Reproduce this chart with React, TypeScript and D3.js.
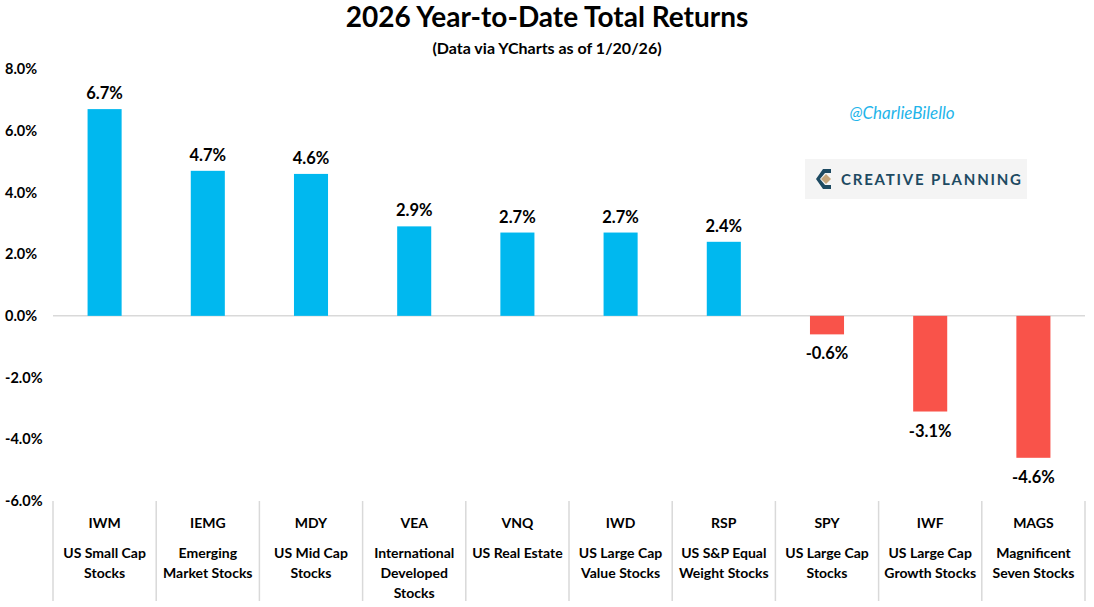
import React, { useEffect, useRef } from "react";
import * as d3 from "d3";

const tickers = ["IWM", "IEMG", "MDY", "VEA", "VNQ", "IWD", "RSP", "SPY", "IWF", "MAGS"];
const descriptions = [
  ["US Small Cap", "Stocks"],
  ["Emerging", "Market Stocks"],
  ["US Mid Cap", "Stocks"],
  ["International", "Developed", "Stocks"],
  ["US Real Estate"],
  ["US Large Cap", "Value Stocks"],
  ["US S&P Equal", "Weight Stocks"],
  ["US Large Cap", "Stocks"],
  ["US Large Cap", "Growth Stocks"],
  ["Magnificent", "Seven Stocks"],
];
const returns = [6.7, 4.7, 4.6, 2.9, 2.7, 2.7, 2.4, -0.6, -3.1, -4.6];
const yTicks = [8, 6, 4, 2, 0, -2, -4, -6];

const FONT = "Lato, 'Open Sans', sans-serif";

const App: React.FC = () => {
  const svgRef = useRef<SVGSVGElement | null>(null);

  useEffect(() => {
    const width = 1094;
    const height = 607;
    const margin = { top: 69, right: 9, bottom: 106, left: 53 };

    const svg = d3.select(svgRef.current).attr("width", width).attr("height", height);
    svg.selectAll("*").remove();

    svg.append("rect").attr("width", width).attr("height", height).attr("fill", "white");

    const x = d3
      .scaleBand()
      .domain(tickers)
      .range([margin.left, width - margin.right])
      .paddingInner(0.67)
      .paddingOuter(0.335);

    // full-width bands for the category table below the plot
    const band = d3
      .scaleBand()
      .domain(tickers)
      .range([margin.left, width - margin.right]);

    const y = d3.scaleLinear().domain([-6, 8]).range([height - margin.bottom, margin.top]);

    // Title
    svg
      .append("text")
      .attr("x", width / 2)
      .attr("y", 27)
      .attr("text-anchor", "middle")
      .style("font-family", FONT)
      .style("font-size", "28px")
      .style("font-weight", "bold")
      .style("fill", "black")
      .text("2026 Year-to-Date Total Returns");

    svg
      .append("text")
      .attr("x", width / 2)
      .attr("y", 54)
      .attr("text-anchor", "middle")
      .style("font-family", FONT)
      .style("font-size", "16px")
      .style("font-weight", "bold")
      .style("fill", "black")
      .text("(Data via YCharts as of 1/20/26)");

    // Y axis labels
    svg
      .append("g")
      .selectAll("text")
      .data(yTicks)
      .enter()
      .append("text")
      .attr("x", 5)
      .attr("y", (d) => y(d))
      .attr("dy", "0.35em")
      .style("font-family", FONT)
      .style("font-size", "14.5px")
      .style("font-weight", "bold")
      .style("fill", "black")
      .text((d) => d.toFixed(1) + "%");

    // Zero line
    svg
      .append("line")
      .attr("x1", margin.left)
      .attr("x2", width - margin.right)
      .attr("y1", y(0))
      .attr("y2", y(0))
      .attr("stroke", "#d9d9d9")
      .attr("stroke-width", 1.5);

    // Bars
    svg
      .append("g")
      .selectAll("rect")
      .data(returns)
      .enter()
      .append("rect")
      .attr("x", (_, i) => x(tickers[i]) as number)
      .attr("width", x.bandwidth())
      .attr("y", (d) => y(Math.max(0, d)))
      .attr("height", (d) => Math.abs(y(d) - y(0)))
      .attr("fill", (d) => (d >= 0 ? "#00B8EF" : "#F9534A"));

    // Value labels
    svg
      .append("g")
      .selectAll("text")
      .data(returns)
      .enter()
      .append("text")
      .attr("x", (_, i) => (x(tickers[i]) as number) + x.bandwidth() / 2)
      .attr("y", (d) => (d >= 0 ? y(d) - 10 : y(d) + 25))
      .attr("text-anchor", "middle")
      .style("font-family", FONT)
      .style("font-size", "16.5px")
      .style("font-weight", "bold")
      .style("fill", "black")
      .text((d) => d.toFixed(1) + "%");

    // Category separators
    const seps = tickers.map((t) => band(t) as number).concat([width - margin.right]);
    svg
      .append("g")
      .selectAll("line")
      .data(seps)
      .enter()
      .append("line")
      .attr("x1", (d) => d)
      .attr("x2", (d) => d)
      .attr("y1", y(-6))
      .attr("y2", height - 6)
      .attr("stroke", "#d9d9d9")
      .attr("stroke-width", 1.5);

    // Category labels
    const cat = svg.append("g");
    tickers.forEach((t, i) => {
      const cx = (band(t) as number) + band.bandwidth() / 2;
      cat
        .append("text")
        .attr("x", cx)
        .attr("y", 528)
        .attr("text-anchor", "middle")
        .style("font-family", FONT)
        .style("font-size", "14px")
        .style("font-weight", "bold")
        .style("fill", "black")
        .text(t);
      descriptions[i].forEach((line, j) => {
        cat
          .append("text")
          .attr("x", cx)
          .attr("y", 558 + j * 20)
          .attr("text-anchor", "middle")
          .style("font-family", FONT)
          .style("font-size", "14px")
          .style("font-weight", "bold")
          .style("fill", "black")
          .text(line);
      });
    });

    // Handle
    svg
      .append("text")
      .attr("x", 902)
      .attr("y", 119)
      .attr("text-anchor", "middle")
      .style("font-family", FONT)
      .style("font-size", "17px")
      .style("font-style", "italic")
      .style("fill", "#1FB5EA")
      .text("@CharlieBilello");

    // Logo
    const logo = svg.append("g").attr("transform", "translate(805,159)");
    logo.append("rect").attr("width", 222).attr("height", 40).attr("fill", "#f4f4f4");
    logo
      .append("path")
      .attr("d", "M26,10 L18,10 L11,20 L18,30 L26,30 L26,26 L20,26 L15,20 L20,14 L26,14 Z")
      .attr("fill", "#1d4a62");
    logo
      .append("path")
      .attr("d", "M21,15 L26,20 L21,25 L16,20 Z")
      .attr("fill", "#c4a57a");
    logo
      .append("text")
      .attr("x", 36)
      .attr("y", 26)
      .style("font-family", FONT)
      .style("font-size", "15px")
      .style("font-weight", "bold")
      .style("letter-spacing", "1.8px")
      .style("fill", "#1d4a62")
      .text("CREATIVE PLANNING");
  }, []);

  return <svg ref={svgRef} style={{ position: "absolute", left: 0, top: 0 }}></svg>;
};

export default App;
